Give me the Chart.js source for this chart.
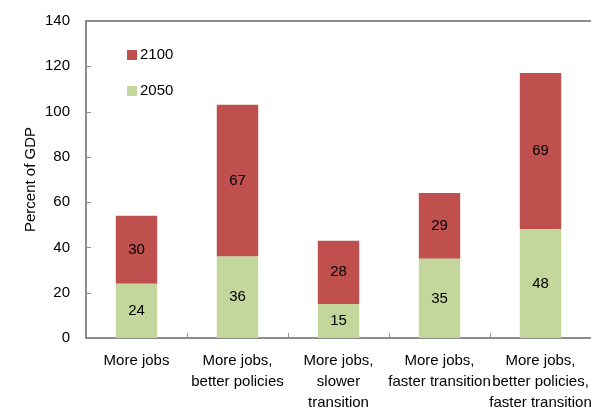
<!DOCTYPE html>
<html lang="en">

<head>
    <meta charset="UTF-8">
    <title>Percent of GDP</title>
    <style>
        html, body { margin: 0; padding: 0; background: #fff; }
        #box { width: 591px; height: 407px; }
    </style>
</head>

<body>
    <div id="box">
        <canvas id="myChart"></canvas>
    </div>

    <script src="https://cdn.jsdelivr.net/npm/chart.js"></script>

    <script>
        // data
        let v_labels = [
            'More jobs',
            ['More jobs,', 'better policies'],
            ['More jobs,', 'slower', 'transition'],
            ['More jobs,', 'faster transition'],
            ['More jobs,', 'better policies,', 'faster transition']
        ];
        let v_2050 = [24, 36, 15, 35, 48];
        let v_2100 = [30, 67, 28, 29, 69];
        let v_yTicks = [0, 20, 40, 60, 80, 100, 120, 140];

        const FONT = "'Liberation Sans', Arial, sans-serif";
        const AXIS = '#8c8c8c';

        // value labels, inside ticks, top line and legend
        const extras = {
            id: 'extras',
            afterDatasetsDraw(chart) {
                const c = chart.ctx;
                c.save();
                c.font = '15px ' + FONT;
                c.fillStyle = '#000';
                c.textAlign = 'center';
                c.textBaseline = 'middle';
                chart.data.datasets.forEach((ds, di) => {
                    chart.getDatasetMeta(di).data.forEach((bar, i) => {
                        let mid = (bar.y + bar.base) / 2;
                        c.fillText(ds.data[i], bar.x, mid);
                    });
                });
                c.restore();
            },
            afterDraw(chart) {
                const c = chart.ctx;
                const a = chart.chartArea;
                const y = chart.scales.y;
                const x = chart.scales.x;
                c.save();
                c.strokeStyle = AXIS;
                c.lineWidth = 2;
                // top line
                c.beginPath();
                c.moveTo(a.left, a.top);
                c.lineTo(a.right, a.top);
                c.stroke();
                c.lineWidth = 1;
                // y ticks pointing inward
                v_yTicks.forEach(t => {
                    let py = Math.round(y.getPixelForValue(t)) + 0.5;
                    c.beginPath();
                    c.moveTo(a.left, py);
                    c.lineTo(a.left + 5, py);
                    c.stroke();
                });
                // x ticks between categories
                for (let i = 1; i < v_labels.length; i++) {
                    let px = Math.round((x.getPixelForTick(i - 1) + x.getPixelForTick(i)) / 2) + 0.5;
                    c.beginPath();
                    c.moveTo(px, a.bottom);
                    c.lineTo(px, a.bottom - 5);
                    c.stroke();
                }
                // legend
                c.font = '15px ' + FONT;
                c.textBaseline = 'middle';
                c.textAlign = 'left';
                let items = [
                    { text: '2100', color: chart.data.datasets[1].backgroundColor, y: 55 },
                    { text: '2050', color: chart.data.datasets[0].backgroundColor, y: 91 }
                ];
                items.forEach(it => {
                    c.fillStyle = it.color;
                    c.fillRect(127, it.y - 5, 10, 10);
                    c.fillStyle = '#000';
                    c.fillText(it.text, 140, it.y);
                });
                c.restore();
            }
        };

        const ctx = document.getElementById('myChart');

        new Chart(ctx, {
            type: 'bar',
            data: {
                labels: v_labels,
                datasets: [{
                    label: '2050',
                    data: v_2050,
                    backgroundColor: '#c3d69b',
                    barPercentage: 0.41,
                    categoryPercentage: 1
                }, {
                    label: '2100',
                    data: v_2100,
                    backgroundColor: '#c0504d',
                    barPercentage: 0.41,
                    categoryPercentage: 1
                }]
            },
            options: {
                responsive: true,
                maintainAspectRatio: false,
                animation: false,
                layout: {
                    padding: { top: 21, right: 0, left: 0, bottom: 0 }
                },
                scales: {
                    x: {
                        stacked: true,
                        grid: { display: false },
                        border: { color: AXIS, width: 2 },
                        ticks: {
                            color: '#000',
                            font: { family: FONT, size: 15, lineHeight: 1.4 },
                            padding: 4,
                            maxRotation: 0,
                            autoSkip: false
                        },
                        afterFit(scale) {
                            scale.height = 69;
                            scale.paddingLeft = 0;
                            scale.paddingRight = 0;
                        }
                    },
                    y: {
                        stacked: true,
                        min: 0,
                        max: 140,
                        afterBuildTicks(scale) {
                            scale.ticks = v_yTicks.map(v => ({ value: v }));
                        },
                        grid: { display: false },
                        border: { color: AXIS, width: 2 },
                        ticks: {
                            color: '#000',
                            font: { family: FONT, size: 15 },
                            padding: 8
                        },
                        title: {
                            display: true,
                            text: 'Percent of GDP',
                            color: '#000',
                            font: { family: FONT, size: 15 },
                            padding: { top: 22, bottom: 0 }
                        },
                        afterFit(scale) { scale.width = 86; }
                    }
                },
                plugins: {
                    legend: { display: false },
                    tooltip: { enabled: false }
                }
            },
            plugins: [extras]
        });
    </script>
</body>

</html>
